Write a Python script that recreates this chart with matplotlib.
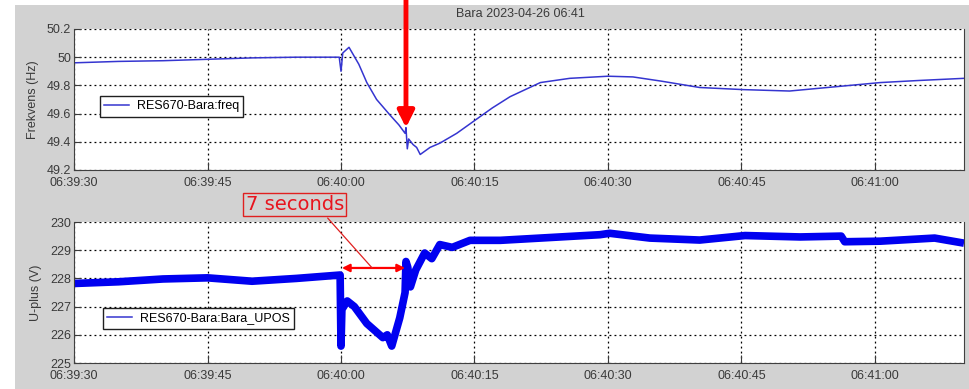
"""
Bara 2023-04-26 06:41: frequency and positive-sequence voltage around the event.
"""

import matplotlib as mpl
import matplotlib.pyplot as plt
import matplotlib.dates as mdates
import numpy as np
import pandas as pd
from matplotlib.lines import Line2D
from matplotlib.patches import Rectangle

FONT_SIZE = 9
mpl.rcParams.update(
    {
        "font.family": ["Liberation Sans", "DejaVu Sans"],
        "font.size": FONT_SIZE,
        "xtick.direction": "in",
        "ytick.direction": "in",
        "xtick.major.size": 6,
        "ytick.major.size": 5,
        "xtick.color": "#3a3a3a",
        "ytick.color": "#3a3a3a",
        "axes.labelcolor": "#3a3a3a",
    }
)

START = pd.Timestamp("2023-04-26 06:39:30")
END = START + pd.Timedelta(seconds=100)

# frequency samples (seconds after 06:39:30, Hz)
freq_sec = [0, 5, 10, 15, 20, 25, 29.8, 30.0, 30.2, 30.9, 32.0, 32.9, 34.0,
            35.5, 36.5, 37.2, 37.3, 37.45, 37.6, 38.1, 38.5, 38.9, 40.0, 41.1,
            43.0, 45.0, 47.0, 49.0, 52.4, 55.7, 60.0, 62.8, 66.0, 70.3, 75.2,
            80.4, 85.5, 90.6, 95.0, 100.0]
freq_hz = [49.96, 49.97, 49.975, 49.985, 49.995, 50.0, 50.0, 49.9, 50.03,
           50.07, 49.95, 49.82, 49.7, 49.59, 49.52, 49.46, 49.5, 49.35, 49.42,
           49.38, 49.36, 49.31, 49.36, 49.39, 49.46, 49.55, 49.64, 49.72,
           49.82, 49.85, 49.865, 49.86, 49.83, 49.785, 49.77, 49.76, 49.79,
           49.82, 49.835, 49.85]

# positive-sequence voltage samples (seconds after 06:39:30, V)
upos_sec = [0, 5, 10, 15, 20, 25, 29.9, 30.0, 30.1, 30.7, 31.5, 32.9, 34.7,
            35.2, 35.7, 36.6, 37.2, 37.3, 37.5, 37.8, 38.4, 38.9, 39.4, 40.2,
            41.1, 42.5, 44.5, 47.9, 53.5, 59.1, 60.2, 64.7, 70.3, 75.4, 81.6,
            86.2, 86.6, 90.6, 96.7, 100.0]
upos_v = [227.82, 227.88, 227.98, 228.02, 227.9, 228.0, 228.12, 225.6, 226.9,
          227.2, 227.0, 226.4, 225.9, 226.0, 225.6, 226.6, 227.5, 228.6, 228.4,
          227.7, 228.3, 228.6, 228.9, 228.7, 229.2, 229.1, 229.35, 229.35,
          229.45, 229.55, 229.6, 229.43, 229.36, 229.52, 229.47, 229.5, 229.3,
          229.32, 229.43, 229.25]

freq_t = START + pd.to_timedelta(freq_sec, unit="s")
upos_t = START + pd.to_timedelta(upos_sec, unit="s")

fig = plt.figure(figsize=(9.7, 3.89), dpi=100, facecolor="white")
fig.patches.append(
    Rectangle((15 / 970, 0), 1 - 15 / 970, 1 - 5 / 389, transform=fig.transFigure,
              facecolor="#d2d2d2", edgecolor="none", zorder=-10)
)

ax1 = fig.add_axes([0.0763, 0.563, 0.9175, 0.3625])
ax2 = fig.add_axes([0.0763, 0.0668, 0.9175, 0.3625])

for ax in (ax1, ax2):
    ax.set_xlim(START, END)
    ax.xaxis.set_major_locator(mdates.SecondLocator(bysecond=[0, 15, 30, 45]))
    ax.xaxis.set_major_formatter(mdates.DateFormatter("%H:%M:%S"))
    ax.grid(True, color="black", linestyle=(0, (1.5, 2.5)), linewidth=0.9)
    ax.spines["top"].set_visible(False)
    for side in ("left", "bottom", "right"):
        ax.spines[side].set_color("#404040")
    ax.tick_params(axis="x", pad=5)
    ax.tick_params(axis="y", pad=2)

ax1.plot(freq_t, freq_hz, color="#3535d0", lw=1.1, label="RES670-Bara:freq")
ax1.set_ylim(49.2, 50.2)
ax1.set_yticks(np.arange(49.2, 50.21, 0.2))
ax1.set_yticklabels(["49.2", "49.4", "49.6", "49.8", "50", "50.2"])
ax1.set_ylabel("Frekvens (Hz)", labelpad=6)
ax1.legend(loc="upper left", bbox_to_anchor=(0.029, 0.525), borderaxespad=0,
           fancybox=False, framealpha=1, edgecolor="#202020", handlelength=2,
           handletextpad=0.6, borderpad=0.35)

ax2.plot(upos_t, upos_v, color="#0000f0", lw=5.5, solid_joinstyle="round",
         solid_capstyle="butt")
ax2.set_ylim(225, 230)
ax2.set_yticks(np.arange(225, 231, 1))
ax2.set_ylabel("U-plus (V)", labelpad=6)
ax2.legend(handles=[Line2D([], [], color="#3535d0", lw=1.1)],
           labels=["RES670-Bara:Bara_UPOS"], loc="upper left",
           bbox_to_anchor=(0.0326, 0.39), borderaxespad=0, fancybox=False,
           framealpha=1, edgecolor="#202020", handlelength=2,
           handletextpad=0.6, borderpad=0.35)

fig.text(520 / 970, 1 - 14 / 389, "Bara 2023-04-26 06:41", ha="center",
         va="center", fontsize=FONT_SIZE, color="#3a3a3a")

# red call-outs
t_event = START + pd.Timedelta(seconds=37.3)
ax1.annotate("", xy=(t_event, 49.5), xytext=(t_event, 50.41),
             annotation_clip=False,
             arrowprops=dict(arrowstyle="-|>,head_width=0.55,head_length=1.1",
                             color="#ff0000", lw=3.5, shrinkA=0, shrinkB=0))

t_a = START + pd.Timedelta(seconds=30.1)
t_b = START + pd.Timedelta(seconds=37.2)
ax2.annotate("", xy=(t_b, 228.37), xytext=(t_a, 228.37),
             arrowprops=dict(arrowstyle="<|-|>,head_width=0.25,head_length=0.5",
                             color="#ff0000", lw=1.6, shrinkA=0, shrinkB=0))
ax2.annotate("", xy=(START + pd.Timedelta(seconds=33.5), 228.37),
             xytext=(START + pd.Timedelta(seconds=28.5), 230.14),
             annotation_clip=False,
             arrowprops=dict(arrowstyle="-", color="#e02020", lw=0.9,
                             shrinkA=0, shrinkB=0))
ax2.text(START + pd.Timedelta(seconds=24.8), 230.62, "7 seconds",
         ha="center", va="center", fontsize=14, color="#e8141e",
         family=["DejaVu Sans"], clip_on=False,
         bbox=dict(boxstyle="square,pad=0.12", facecolor="none",
                   edgecolor="#e02020", lw=1))

plt.savefig("out.png", dpi=100)
plt.close()
